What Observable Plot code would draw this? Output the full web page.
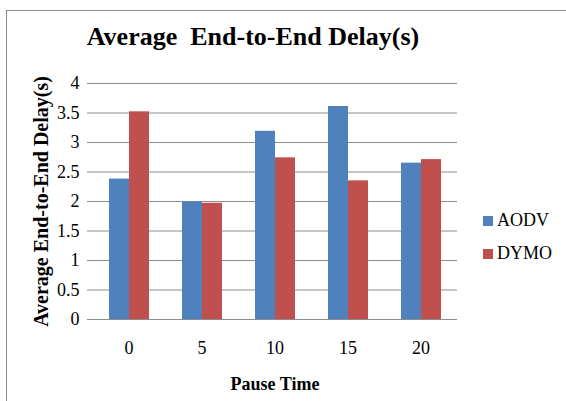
<!DOCTYPE html>
<html>
<head>
<meta charset="utf-8">
<script src="https://cdn.jsdelivr.net/npm/d3@7"></script>
<script src="https://cdn.jsdelivr.net/npm/@observablehq/plot@0.6"></script>
<style>
  html, body { margin: 0; padding: 0; background: #fff; }
  #wrap { position: relative; width: 566px; height: 401px; overflow: hidden; background: #fff; font-family: "Liberation Serif", "DejaVu Serif", serif; }
  #frame { position: absolute; left: 6px; top: 10px; width: 600px; height: 420px; border-top: 1.5px solid #8a8a8a; border-left: 1.5px solid #8a8a8a; }
  #title { position: absolute; left: 0; top: 22px; width: 506px; text-align: center; font-size: 26px; font-weight: bold; white-space: pre; color: #000; }
  #chart { position: absolute; left: 0; top: 60px; }
  #legend { position: absolute; left: 483px; top: 204px; font-size: 18px; color: #000; }
  #legend .item { display: flex; align-items: center; height: 33px; }
  #legend .sw { width: 10px; height: 10px; margin-right: 4px; }
  svg [aria-label="y-axis label"] { font-weight: bold; font-size: 20px; }
  svg [aria-label="fx-axis label"] { font-weight: bold; font-size: 18px; }
</style>
</head>
<body>
<div id="wrap">
  <div id="frame"></div>
  <div id="title">Average  End-to-End Delay(s)</div>
  <div id="chart"></div>
  <div id="legend"></div>
</div>
<script>
const pauseTimes = [0, 5, 10, 15, 20];
const seriesNames = ["AODV", "DYMO"];
const aodv = [2.38, 1.99, 3.19, 3.61, 2.65];
const dymo = [3.52, 1.97, 2.74, 2.35, 2.71];
const yTicks = [0, 0.5, 1, 1.5, 2, 2.5, 3, 3.5, 4];
const colors = ["#4F81BD", "#C0504D"];

const data = [];
pauseTimes.forEach((p, i) => {
  data.push({pause: p, series: "AODV", value: aodv[i]});
  data.push({pause: p, series: "DYMO", value: dymo[i]});
});

const chart = Plot.plot({
  width: 566,
  height: 341,
  marginTop: 23,
  marginBottom: 82,
  marginLeft: 91,
  marginRight: 108,
  style: {fontFamily: "'Liberation Serif', 'DejaVu Serif', serif", fontSize: "18px", color: "#000", background: "transparent", overflow: "visible"},
  fx: {domain: pauseTimes, padding: 0, paddingOuter: 0, label: null},
  x: {domain: seriesNames, paddingInner: 0, paddingOuter: 0.75, axis: null},
  y: {domain: [0, 4], label: null},
  color: {domain: seriesNames, range: colors},
  marks: [
    Plot.ruleY(yTicks, {stroke: "#8c8c8c", strokeWidth: 1}),
    Plot.ruleX([0], {frameAnchor: "left", stroke: "#8c8c8c", facet: "exclude"}),
    Plot.barY(data, {fx: "pause", x: "series", y: "value", fill: "series"}),
    Plot.axisY({ticks: yTicks, tickFormat: d => String(d), tickSize: 5, tickPadding: 8, stroke: "#8c8c8c", fontSize: 18, label: "Average End-to-End Delay(s)", labelAnchor: "center", labelOffset: 59, labelArrow: "none"}),
    Plot.axisFx({anchor: "bottom", tickSize: 0, tickPadding: 22, fontSize: 18, label: "Pause Time", labelAnchor: "center", labelOffset: 70, labelArrow: "none"})
  ]
});
document.getElementById("chart").appendChild(chart);

const legend = document.getElementById("legend");
seriesNames.forEach((s, i) => {
  const it = document.createElement("div");
  it.className = "item";
  const sw = document.createElement("span");
  sw.className = "sw";
  sw.style.background = colors[i];
  const t = document.createElement("span");
  t.textContent = s;
  it.appendChild(sw);
  it.appendChild(t);
  legend.appendChild(it);
});
</script>
</body>
</html>
